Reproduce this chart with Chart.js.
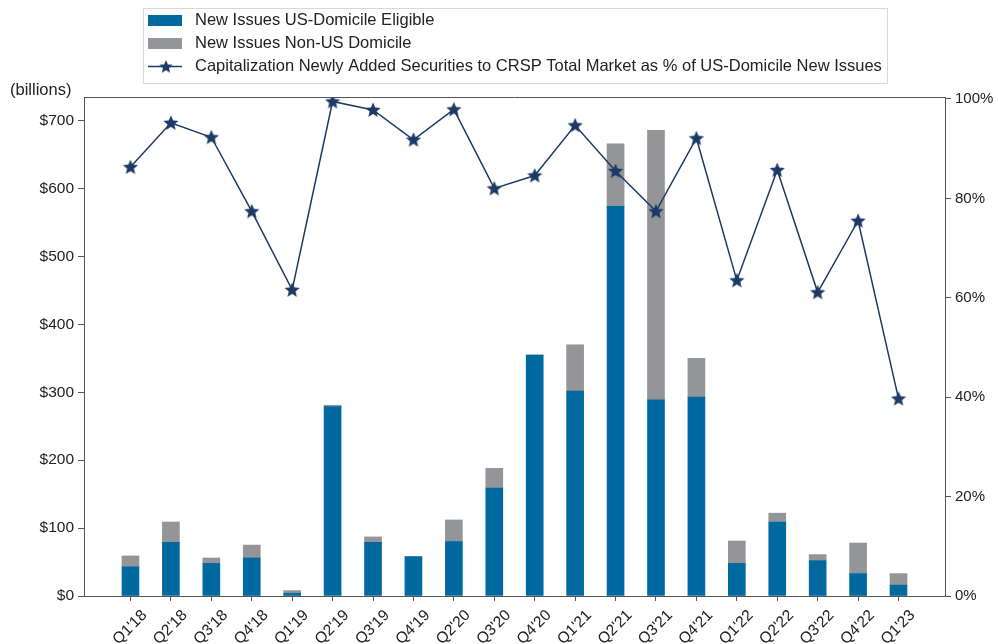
<!DOCTYPE html>
<html>
<head>
<meta charset="utf-8">
<script src="https://cdn.jsdelivr.net/npm/chart.js@4.4.1/dist/chart.umd.min.js"></script>
<style>
  html, body { margin: 0; padding: 0; background: #fff; }
</style>
</head>
<body>
<canvas id="chart" width="998" height="644"></canvas>
<script>
// quarters shown on the axis (no Q1'20 in the source)
var quarters = ["Q1'18", "Q2'18", "Q3'18", "Q4'18", "Q1'19", "Q2'19", "Q3'19", "Q4'19", "Q2'20", "Q3'20",
                "Q4'20", "Q1'21", "Q2'21", "Q3'21", "Q4'21", "Q1'22", "Q2'22", "Q3'22", "Q4'22", "Q1'23"];
// billions
var usEligible = [43, 79, 48, 56, 4, 279, 79, 58, 80, 159, 355, 302, 574, 289, 293, 48, 109, 52, 33, 16];
var nonUs      = [16, 30, 8, 19, 4, 2, 8, 0, 32, 29, 0, 68, 92, 397, 57, 33, 13, 9, 45, 17];
// percent
var capPct     = [86.3, 95.2, 92.3, 77.4, 61.6, 99.5, 97.8, 91.8, 97.9, 82.0,
                  84.6, 94.7, 85.5, 77.4, 92.1, 63.5, 85.7, 61.1, 75.5, 39.7];
var dollarTicks = [0, 100, 200, 300, 400, 500, 600, 700];
var pctTicks = [0, 20, 40, 60, 80, 100];

var BLUE = '#00699f';
var GREY = '#939598';
var NAVY = '#1b3a66';
var FONT = "Arial, 'Liberation Sans', sans-serif";

function makeStar(size, color) {
  var c = document.createElement('canvas');
  c.width = size; c.height = size;
  var g = c.getContext('2d');
  var cx = size / 2, cy = size / 2 + 0.5, R = size / 2, r = R * 0.45;
  g.beginPath();
  for (var i = 0; i < 10; i++) {
    var a = -Math.PI / 2 + i * Math.PI / 5;
    var rad = i % 2 ? r : R;
    g.lineTo(cx + rad * Math.cos(a), cy + rad * Math.sin(a));
  }
  g.closePath();
  g.fillStyle = color;
  g.fill();
  return c;
}
var star = makeStar(16, NAVY);
var smallStar = makeStar(14, NAVY);

function pts(arr) {
  return arr.map(function(v, i) { return { x: i, y: v }; });
}

var extras = {
  id: 'extras',
  afterDraw: function(chart) {
    var ctx = chart.ctx, a = chart.chartArea;
    ctx.save();
    // top frame line
    ctx.strokeStyle = '#555';
    ctx.lineWidth = 1;
    ctx.beginPath();
    ctx.moveTo(a.left, a.top + 0.5);
    ctx.lineTo(a.right, a.top + 0.5);
    ctx.stroke();

    // rotated quarter labels, anchored a little right of each tick
    var xs = chart.scales.x;
    ctx.fillStyle = '#222';
    ctx.font = '15.5px ' + FONT;
    ctx.textAlign = 'right';
    ctx.textBaseline = 'middle';
    quarters.forEach(function(q, i) {
      ctx.save();
      ctx.translate(xs.getPixelForValue(i) + 14, a.bottom + 17);
      ctx.rotate(-Math.PI / 4);
      ctx.fillText(q, 0, 0);
      ctx.restore();
    });

    // units label
    ctx.font = '16.5px ' + FONT;
    ctx.textAlign = 'left';
    ctx.fillText('(billions)', 10, 90);

    // legend box
    ctx.strokeStyle = '#d8d8d8';
    ctx.strokeRect(143.5, 8.5, 744, 75);
    var ds = chart.data.datasets;
    var rows = [20.5, 43.5, 66.5];
    ds.forEach(function(d, i) {
      var y = rows[i];
      if (d.type === 'line') {
        ctx.strokeStyle = d.borderColor;
        ctx.lineWidth = 1.5;
        ctx.beginPath();
        ctx.moveTo(148, y);
        ctx.lineTo(182, y);
        ctx.stroke();
        ctx.drawImage(smallStar, 166 - 7, y - 7);
      } else {
        ctx.fillStyle = d.backgroundColor;
        ctx.fillRect(148, y - 5.5, 34, 11);
      }
      ctx.fillStyle = '#222';
      ctx.fillText(d.label, 195, y);
    });
    ctx.restore();
  }
};

new Chart(document.getElementById('chart').getContext('2d'), {
  type: 'bar',
  data: {
    datasets: [
      {
        type: 'bar',
        label: 'New Issues US-Domicile Eligible',
        data: pts(usEligible),
        backgroundColor: BLUE,
        barThickness: 17,
        yAxisID: 'y',
        order: 2
      },
      {
        type: 'bar',
        label: 'New Issues Non-US Domicile',
        data: pts(nonUs),
        backgroundColor: GREY,
        barThickness: 17,
        yAxisID: 'y',
        order: 2
      },
      {
        type: 'line',
        label: 'Capitalization Newly Added Securities to CRSP Total Market as % of US-Domicile New Issues',
        data: pts(capPct),
        borderColor: NAVY,
        borderWidth: 1.5,
        pointStyle: star,
        pointRadius: 8,
        tension: 0,
        yAxisID: 'y2',
        order: 0
      }
    ]
  },
  options: {
    responsive: false,
    animation: false,
    layout: { padding: { top: 97, left: 0, right: 0, bottom: 0 } },
    plugins: {
      legend: { display: false },
      tooltip: { enabled: false }
    },
    scales: {
      x: {
        type: 'linear',
        stacked: true,
        offset: false,
        min: -1.15,
        max: quarters.length - 1 + 1.15,
        afterBuildTicks: function(s) {
          s.ticks = quarters.map(function(q, i) { return { value: i }; });
        },
        afterFit: function(s) { s.height = 48; },
        grid: { offset: false, drawOnChartArea: false, tickLength: 5, color: '#555' },
        border: { color: '#555', width: 1 },
        ticks: { display: false, autoSkip: false }
      },
      y: {
        position: 'left',
        stacked: true,
        min: 0,
        max: 735,
        afterBuildTicks: function(s) {
          s.ticks = dollarTicks.map(function(v) { return { value: v }; });
        },
        afterFit: function(s) { s.width = 84; },
        grid: { drawOnChartArea: false, tickLength: 6, color: '#555' },
        border: { color: '#555', width: 1 },
        ticks: {
          padding: 4,
          color: '#222',
          font: { family: FONT, size: 15.5 },
          callback: function(v) { return '$' + v; }
        }
      },
      y2: {
        position: 'right',
        min: 0,
        max: 100.4,
        afterBuildTicks: function(s) {
          s.ticks = pctTicks.map(function(v) { return { value: v }; });
        },
        afterFit: function(s) { s.width = 53; },
        grid: { drawOnChartArea: false, tickLength: 6, color: '#555' },
        border: { color: '#555', width: 1 },
        ticks: {
          padding: 4,
          color: '#222',
          font: { family: FONT, size: 15 },
          callback: function(v) { return v + '%'; }
        }
      }
    }
  },
  plugins: [extras]
});
</script>
</body>
</html>
